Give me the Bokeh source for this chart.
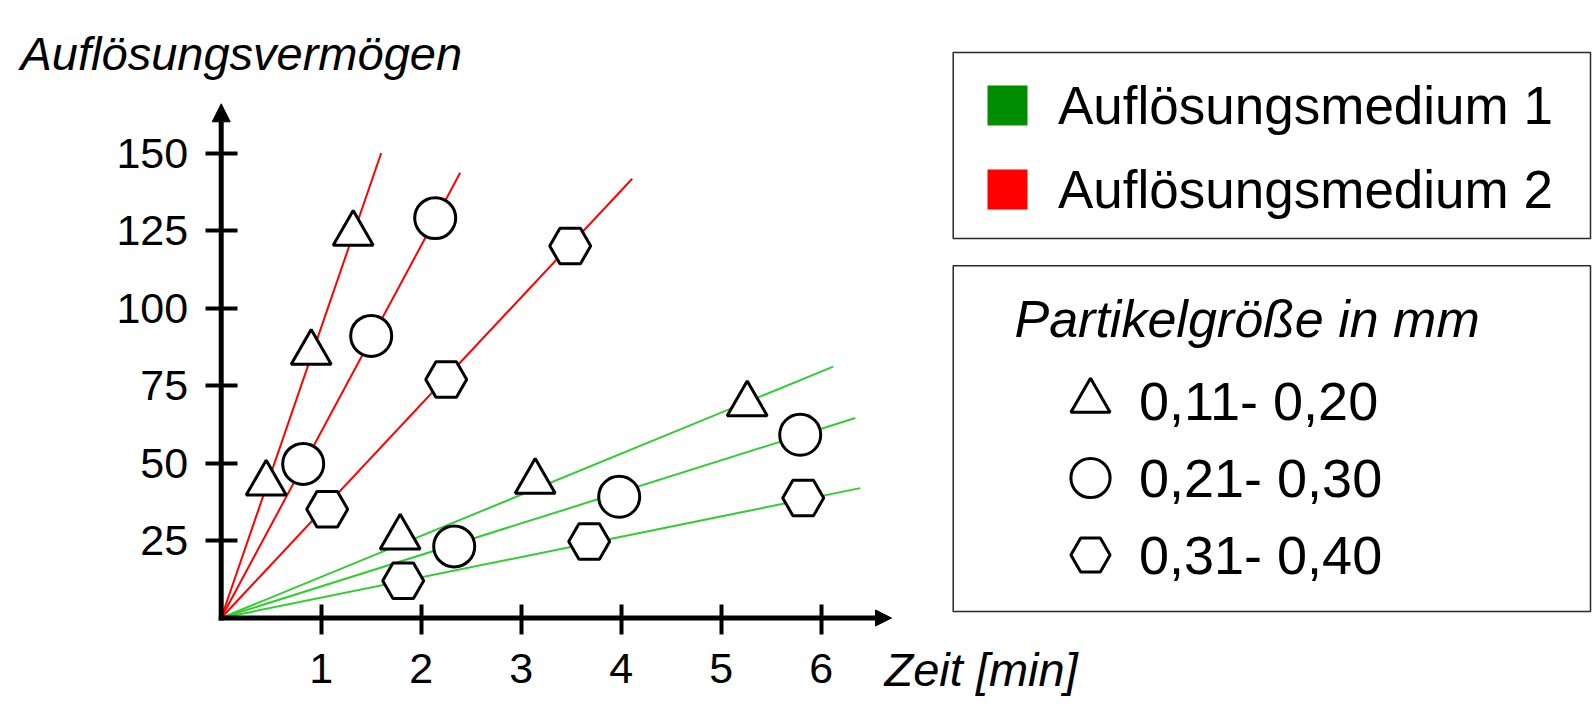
import numpy as np
from bokeh.plotting import figure
from bokeh.models import (Range1d, FixedTicker, Legend, LegendItem, Label,
                          Arrow, NormalHead, BoxAnnotation)
from bokeh.embed import file_html
from bokeh.resources import INLINE

# ---------------- data ----------------
tick_x = [1, 2, 3, 4, 5, 6]
tick_y = [25, 50, 75, 100, 125, 150]

# Auflösungsmedium 1 (green)
m1_tri_t = [1.79, 3.14, 5.26]
m1_tri_v = [26.0, 44.0, 69.0]
m1_cir_t = [2.33, 3.98, 5.79]
m1_cir_v = [23.1, 39.1, 59.1]
m1_hex_t = [1.82, 3.68, 5.82]
m1_hex_v = [12.0, 24.7, 38.7]

# Auflösungsmedium 2 (red)
m2_tri_t = [0.45, 0.90, 1.32]
m2_tri_v = [43.4, 85.6, 124.0]
m2_cir_t = [0.82, 1.50, 2.14]
m2_cir_v = [49.7, 91.0, 129.0]
m2_hex_t = [1.06, 2.25, 3.49]
m2_hex_v = [35.1, 76.9, 120.0]

# fitted lines through origin: end points
fit_m1_t_end = [6.12, 6.34, 6.39]
fit_m1_v_end = [81.1, 64.5, 41.9]
fit_m2_t_end = [1.60, 2.39, 4.11]
fit_m2_v_end = [150.0, 143.6, 141.7]

series_labels = ["Auflösungsmedium 1", "Auflösungsmedium 2"]
size_labels = ["0,11- 0,20", "0,21- 0,30", "0,31- 0,40"]
size_title = "Partikelgröße in mm"
y_title = "Auflösungsvermögen"
x_title = "Zeit [min]"

# ---------------- layout ----------------
W, H = 1592, 700
PXX = 100.0          # px per minute
PXY = 3.1            # px per unit
OX, OY = 220.7, 617.5  # canvas position of the origin


def dx(px):
    return (px - OX) / PXX


def dy(py):
    return (OY - py) / PXY


FONT = "Liberation Sans"

p = figure(width=W, height=H,
           x_range=Range1d(dx(0), dx(W)),
           y_range=Range1d(dy(H), dy(0)),
           output_backend="svg", toolbar_location=None,
           min_border_left=0, min_border_bottom=0,
           min_border_top=0, min_border_right=0)
p.outline_line_color = None
p.grid.visible = False
p.background_fill_color = "white"

for ax in (p.xaxis[0], p.yaxis[0]):
    ax.fixed_location = 0
    ax.axis_line_color = None
    ax.minor_tick_line_color = None
    ax.major_tick_line_color = "black"
    ax.major_tick_line_width = 4
    ax.major_label_text_font = FONT
    ax.major_label_text_font_size = "43px"
    ax.major_label_text_color = "black"

p.xaxis.ticker = FixedTicker(ticks=tick_x)
p.yaxis.ticker = FixedTicker(ticks=tick_y)
p.xaxis.major_tick_in = 14
p.xaxis.major_tick_out = 16
p.yaxis.major_tick_in = 16
p.yaxis.major_tick_out = 16
p.xaxis.major_label_standoff = 20
p.yaxis.major_label_standoff = 17

# axis arrows
p.add_layout(Arrow(end=NormalHead(size=16, fill_color="black", line_color="black", line_width=1),
                   x_start=-0.025, y_start=0, x_end=dx(891), y_end=0,
                   line_width=5, line_color="black"))
p.add_layout(Arrow(end=NormalHead(size=18, fill_color="black", line_color="black", line_width=1),
                   x_start=0, y_start=-0.8, x_end=0, y_end=dy(103.3),
                   line_width=5, line_color="black"))

# fitted lines
p.segment(x0=[0] * 3, y0=[0] * 3, x1=fit_m1_t_end, y1=fit_m1_v_end,
          line_color="#33CC33", line_width=2)
p.segment(x0=[0] * 3, y0=[0] * 3, x1=fit_m2_t_end, y1=fit_m2_v_end,
          line_color="#FF0000", line_width=2)

# markers
tri = p.scatter(m1_tri_t + m2_tri_t, m1_tri_v + m2_tri_v, marker="triangle", size=40,
                fill_color="white", line_color="black", line_width=3)
cir = p.scatter(m1_cir_t + m2_cir_t, m1_cir_v + m2_cir_v, marker="circle", size=41,
                fill_color="white", line_color="black", line_width=3)
hexr = p.scatter(m1_hex_t + m2_hex_t, m1_hex_v + m2_hex_v, marker="hex", size=41,
                 fill_color="white", line_color="black", line_width=3)

# legend swatches (not drawn in the plot: NaN position)
nan = np.array([np.nan])
sq1 = p.scatter(x=nan, y=nan, marker="square", size=40, fill_color="#008C00", line_color=None)
sq2 = p.scatter(x=nan, y=nan, marker="square", size=40, fill_color="#FF0000", line_color=None)

# legend frames
for top, bottom in ((52, 238), (265.3, 611)):
    p.add_layout(BoxAnnotation(left=dx(952.7), right=dx(1590), top=dy(top), bottom=dy(bottom),
                               fill_color=None, fill_alpha=0,
                               line_color="#2a2a2a", line_alpha=1.0, line_width=1.5))


def make_legend(item, left, bottom, gw, gh, standoff, fsize):
    lg = Legend(items=[item], location=(int(round(left)), int(round(H - bottom))),
                glyph_width=gw, glyph_height=gh, spacing=0, label_standoff=standoff,
                padding=0, margin=0, border_line_color=None, background_fill_alpha=0,
                label_text_font=FONT, label_text_font_size=fsize,
                label_text_color="black")
    p.add_layout(lg)
    return lg


# legend 1: media colours
sq_cx = 1007.2
make_legend(LegendItem(label=series_labels[0], renderers=[sq1]),
            sq_cx - 50, 104.7 + 50, 100, 100, 1, "53px")
make_legend(LegendItem(label=series_labels[1], renderers=[sq2]),
            sq_cx - 50, 189.3 + 50, 100, 100, 1, "53px")

# legend 2: particle sizes
mk_cx = 1090.0
row_cy = [400.4, 477.5, 554.2]
for lab, rend, cy in zip(size_labels, [tri, cir, hexr], row_cy):
    make_legend(LegendItem(label=lab, renderers=[rend]),
                mk_cx - 49, cy + 51.5, 98, 103, 0, "54px")

p.add_layout(Label(x=dx(1014), y=dy(318), text=size_title, text_font=FONT,
                   text_font_style="italic", text_font_size="52px",
                   text_color="black", text_baseline="middle", text_align="left"))

# axis titles
p.add_layout(Label(x=dx(20), y=dy(53.2), text=y_title, text_font=FONT,
                   text_font_style="italic", text_font_size="47px",
                   text_color="black", text_baseline="middle", text_align="left"))
p.add_layout(Label(x=dx(884), y=dy(668.5), text=x_title, text_font=FONT,
                   text_font_style="italic", text_font_size="47px",
                   text_color="black", text_baseline="middle", text_align="left"))

open("out.html", "w").write(file_html(p, INLINE))
